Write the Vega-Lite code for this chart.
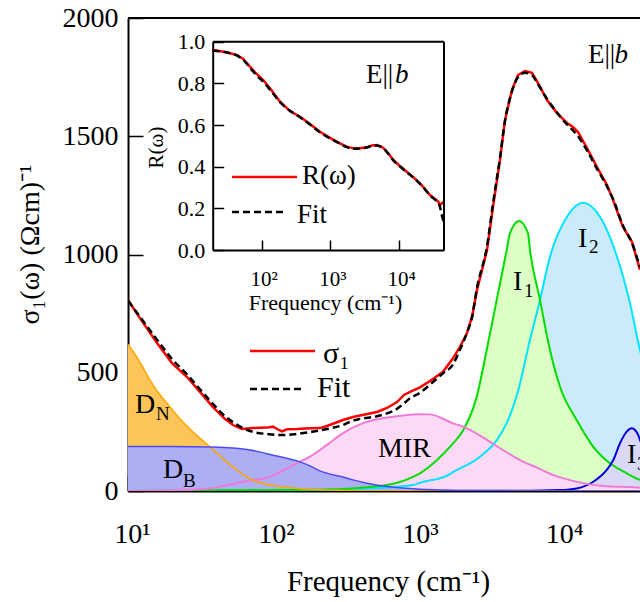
{
  "$schema": "https://vega.github.io/schema/vega-lite/v6.json",
  "width": 512,
  "height": 473,
  "autosize": "none",
  "padding": {"left": 128, "top": 18, "right": 0, "bottom": 111},
  "config": {
    "font": "Liberation Serif",
    "view": {"stroke": null},
    "axis": {
      "grid": false,
      "labelColor": "black",
      "titleColor": "black",
      "domainColor": "black",
      "tickColor": "black",
      "titleFontWeight": "normal",
      "labelFont": "Liberation Serif",
      "titleFont": "Liberation Serif"
    },
    "text": {"font": "Liberation Serif", "color": "black"}
  },
  "datasets": {
    "sigma": [
      {"f": 10, "s": 808}, {"f": 12.1, "s": 731}, {"f": 15.9, "s": 626}, {"f": 20.2, "s": 541},
      {"f": 25.7, "s": 482}, {"f": 31.6, "s": 419}, {"f": 38.9, "s": 355}, {"f": 47.2, "s": 304},
      {"f": 53.6, "s": 279}, {"f": 61.9, "s": 262}, {"f": 73.8, "s": 266}, {"f": 92.3, "s": 268},
      {"f": 101.6, "s": 272}, {"f": 110.2, "s": 260}, {"f": 117.4, "s": 252}, {"f": 127.1, "s": 261},
      {"f": 149.2, "s": 262}, {"f": 183.6, "s": 265}, {"f": 215.4, "s": 266}, {"f": 240.9, "s": 275},
      {"f": 311.2, "s": 300}, {"f": 365.2, "s": 313}, {"f": 408.4, "s": 319}, {"f": 536, "s": 334},
      {"f": 629, "s": 351}, {"f": 738, "s": 376}, {"f": 825, "s": 406}, {"f": 909, "s": 419},
      {"f": 1066, "s": 438}, {"f": 1251, "s": 465}, {"f": 1540, "s": 504}, {"f": 1807, "s": 561},
      {"f": 2021, "s": 610}, {"f": 2261, "s": 668}, {"f": 2449, "s": 737}, {"f": 2653, "s": 850},
      {"f": 3112, "s": 1019}, {"f": 3425, "s": 1201}, {"f": 3831, "s": 1400}, {"f": 4150, "s": 1569},
      {"f": 4642, "s": 1696}, {"f": 5109, "s": 1759}, {"f": 5714, "s": 1776}, {"f": 6392, "s": 1768},
      {"f": 7035, "s": 1725}, {"f": 8122, "s": 1653}, {"f": 9532, "s": 1598}, {"f": 11184, "s": 1556},
      {"f": 12311, "s": 1539}, {"f": 13335, "s": 1518}, {"f": 15399, "s": 1450}, {"f": 18066, "s": 1370},
      {"f": 21200, "s": 1294}, {"f": 23340, "s": 1231}, {"f": 27380, "s": 1116}, {"f": 31623, "s": 1053},
      {"f": 35938, "s": 935}
    ],
    "sigmaFit": [
      {"f": 10, "s": 805}, {"f": 12.1, "s": 737}, {"f": 15.9, "s": 640}, {"f": 20.2, "s": 558},
      {"f": 25.7, "s": 493}, {"f": 31.6, "s": 430}, {"f": 38.9, "s": 368}, {"f": 47.2, "s": 316},
      {"f": 53.6, "s": 291}, {"f": 61.9, "s": 268}, {"f": 73.8, "s": 250}, {"f": 92.3, "s": 241},
      {"f": 110, "s": 237}, {"f": 127, "s": 237}, {"f": 149, "s": 241}, {"f": 184, "s": 249},
      {"f": 215, "s": 256}, {"f": 241, "s": 262}, {"f": 311, "s": 279}, {"f": 365, "s": 298},
      {"f": 408, "s": 305}, {"f": 536, "s": 316}, {"f": 629, "s": 328}, {"f": 738, "s": 348},
      {"f": 825, "s": 370}, {"f": 909, "s": 392}, {"f": 1066, "s": 415}, {"f": 1251, "s": 450},
      {"f": 1540, "s": 498}, {"f": 1807, "s": 535}, {"f": 2021, "s": 598}, {"f": 2261, "s": 670},
      {"f": 2449, "s": 735}, {"f": 2653, "s": 860}, {"f": 3112, "s": 1035}, {"f": 3425, "s": 1215},
      {"f": 3831, "s": 1410}, {"f": 4150, "s": 1565}, {"f": 4642, "s": 1690}, {"f": 5109, "s": 1750},
      {"f": 5714, "s": 1768}, {"f": 6392, "s": 1758}, {"f": 7035, "s": 1720}, {"f": 8122, "s": 1658},
      {"f": 9532, "s": 1600}, {"f": 11184, "s": 1550}, {"f": 12311, "s": 1525}, {"f": 13335, "s": 1500},
      {"f": 15399, "s": 1440}, {"f": 18066, "s": 1362}, {"f": 21200, "s": 1288}, {"f": 23340, "s": 1235},
      {"f": 27380, "s": 1122}, {"f": 31623, "s": 1048}, {"f": 35938, "s": 945}
    ],
    "drudeN": [
      {"f": 10, "s": 621}, {"f": 12.1, "s": 545}, {"f": 14.2, "s": 469}, {"f": 16.7, "s": 406},
      {"f": 19.6, "s": 355}, {"f": 23, "s": 304}, {"f": 28.3, "s": 249}, {"f": 37.1, "s": 186},
      {"f": 45, "s": 140}, {"f": 53.6, "s": 101}, {"f": 73.8, "s": 46}, {"f": 108, "s": 21},
      {"f": 156, "s": 10}, {"f": 253, "s": 4}, {"f": 562, "s": 0.8}, {"f": 2000, "s": 0.1},
      {"f": 40000, "s": 0}
    ],
    "drudeB": [
      {"f": 10, "s": 188}, {"f": 19.6, "s": 188}, {"f": 37.1, "s": 186}, {"f": 62.9, "s": 178},
      {"f": 108, "s": 148}, {"f": 156, "s": 123}, {"f": 184, "s": 106}, {"f": 215, "s": 85},
      {"f": 311, "s": 59}, {"f": 365, "s": 47}, {"f": 457, "s": 33}, {"f": 629, "s": 19},
      {"f": 1192, "s": 6}, {"f": 2021, "s": 2}, {"f": 5275, "s": 0.3}, {"f": 40000, "s": 0}
    ],
    "mir": [
      {"f": 10, "s": 0.3}, {"f": 23, "s": 4}, {"f": 38.9, "s": 13}, {"f": 62.9, "s": 39},
      {"f": 96.8, "s": 60}, {"f": 149.2, "s": 118}, {"f": 183.6, "s": 145}, {"f": 240.9, "s": 195},
      {"f": 311.2, "s": 245}, {"f": 428.5, "s": 287}, {"f": 692, "s": 314}, {"f": 909, "s": 322},
      {"f": 1066, "s": 325}, {"f": 1251, "s": 324}, {"f": 1807, "s": 286}, {"f": 2120, "s": 272},
      {"f": 3112, "s": 216}, {"f": 4019, "s": 173}, {"f": 5275, "s": 131}, {"f": 7035, "s": 97},
      {"f": 8944, "s": 68}, {"f": 11736, "s": 46}, {"f": 19890, "s": 21}, {"f": 34250, "s": 15},
      {"f": 40000, "s": 12}
    ],
    "band1": [
      {"f": 10, "s": 0}, {"f": 156, "s": 5}, {"f": 365, "s": 11}, {"f": 536, "s": 20},
      {"f": 629, "s": 25}, {"f": 953, "s": 60}, {"f": 1066, "s": 75}, {"f": 1399, "s": 131},
      {"f": 1807, "s": 201}, {"f": 2131, "s": 258}, {"f": 2640, "s": 399}, {"f": 3097, "s": 596},
      {"f": 3634, "s": 808}, {"f": 4265, "s": 1019}, {"f": 4496, "s": 1090}, {"f": 5192, "s": 1142},
      {"f": 5995, "s": 1090}, {"f": 6190, "s": 1019}, {"f": 7262, "s": 808}, {"f": 8522, "s": 596},
      {"f": 10000, "s": 441}, {"f": 13060, "s": 300}, {"f": 17030, "s": 187}, {"f": 22230, "s": 117},
      {"f": 29060, "s": 75}, {"f": 35938, "s": 47}, {"f": 45000, "s": 30}
    ],
    "band2": [
      {"f": 10, "s": 0}, {"f": 156, "s": 3}, {"f": 365, "s": 9}, {"f": 629, "s": 15},
      {"f": 953, "s": 25}, {"f": 1066, "s": 35}, {"f": 1642, "s": 65}, {"f": 1807, "s": 80},
      {"f": 2782, "s": 145}, {"f": 3652, "s": 216}, {"f": 4285, "s": 290}, {"f": 5100, "s": 420},
      {"f": 6190, "s": 640}, {"f": 7262, "s": 808}, {"f": 8522, "s": 991}, {"f": 11184, "s": 1160},
      {"f": 14440, "s": 1219}, {"f": 18960, "s": 1160}, {"f": 24880, "s": 991}, {"f": 30630, "s": 794},
      {"f": 35938, "s": 596}, {"f": 45000, "s": 400}
    ],
    "band3": [
      {"f": 1000, "s": 0}, {"f": 5275, "s": 1}, {"f": 10000, "s": 4}, {"f": 13060, "s": 11},
      {"f": 17030, "s": 39}, {"f": 21100, "s": 89}, {"f": 23450, "s": 131}, {"f": 26100, "s": 202},
      {"f": 29060, "s": 251}, {"f": 31470, "s": 265}, {"f": 33180, "s": 258}, {"f": 34990, "s": 235},
      {"f": 35938, "s": 216}, {"f": 40000, "s": 150}, {"f": 50000, "s": 60}
    ],
    "labelBase": [
      {"f": 11.18, "s": 330, "t": "D"},
      {"f": 17.5, "s": 55, "t": "D"},
      {"f": 544.6, "s": 144, "t": "MIR"},
      {"f": 4717, "s": 850, "t": "I"},
      {"f": 13335, "s": 1032, "t": "I"},
      {"f": 29190, "s": 118, "t": "I"}
    ],
    "labelSub": [
      {"f": 15.65, "s": 300, "t": "N"},
      {"f": 24.1, "s": 17, "t": "B"},
      {"f": 5623, "s": 820, "t": "1"},
      {"f": 15900, "s": 1006, "t": "2"},
      {"f": 34250, "s": 89, "t": "3"}
    ],
    "refl": [
      {"f": 19.4, "s": 0.960}, {"f": 29.3, "s": 0.951}, {"f": 43.3, "s": 0.936}, {"f": 54, "s": 0.917},
      {"f": 67.6, "s": 0.880}, {"f": 84.6, "s": 0.845}, {"f": 105.5, "s": 0.816}, {"f": 132, "s": 0.776},
      {"f": 184.6, "s": 0.712}, {"f": 257.8, "s": 0.667}, {"f": 360.6, "s": 0.640}, {"f": 503.5, "s": 0.605},
      {"f": 703, "s": 0.568}, {"f": 982.5, "s": 0.538}, {"f": 1374, "s": 0.512}, {"f": 1720, "s": 0.496},
      {"f": 2145, "s": 0.488}, {"f": 2685, "s": 0.488}, {"f": 3357, "s": 0.493}, {"f": 4011, "s": 0.502},
      {"f": 4690, "s": 0.504}, {"f": 5243, "s": 0.499}, {"f": 5860, "s": 0.490}, {"f": 6852, "s": 0.466},
      {"f": 8190, "s": 0.432}, {"f": 10240, "s": 0.403}, {"f": 12790, "s": 0.376}, {"f": 15980, "s": 0.350},
      {"f": 20000, "s": 0.320}, {"f": 23640, "s": 0.293}, {"f": 27940, "s": 0.264}, {"f": 33040, "s": 0.245},
      {"f": 36900, "s": 0.232}, {"f": 39200, "s": 0.216}, {"f": 44700, "s": 0.233}
    ],
    "reflFit": [
      {"f": 19.4, "s": 0.958}, {"f": 29.3, "s": 0.950}, {"f": 43.3, "s": 0.934}, {"f": 54, "s": 0.913},
      {"f": 67.6, "s": 0.875}, {"f": 84.6, "s": 0.838}, {"f": 105.5, "s": 0.808}, {"f": 132, "s": 0.770},
      {"f": 184.6, "s": 0.710}, {"f": 257.8, "s": 0.668}, {"f": 360.6, "s": 0.638}, {"f": 503.5, "s": 0.602},
      {"f": 703, "s": 0.565}, {"f": 982.5, "s": 0.536}, {"f": 1374, "s": 0.510}, {"f": 1720, "s": 0.494},
      {"f": 2145, "s": 0.486}, {"f": 2685, "s": 0.487}, {"f": 3357, "s": 0.492}, {"f": 4011, "s": 0.500},
      {"f": 4690, "s": 0.502}, {"f": 5243, "s": 0.497}, {"f": 5860, "s": 0.488}, {"f": 6852, "s": 0.464},
      {"f": 8190, "s": 0.430}, {"f": 10240, "s": 0.401}, {"f": 12790, "s": 0.374}, {"f": 15980, "s": 0.348},
      {"f": 20000, "s": 0.318}, {"f": 23640, "s": 0.291}, {"f": 27940, "s": 0.262}, {"f": 33040, "s": 0.242},
      {"f": 36900, "s": 0.228}, {"f": 39200, "s": 0.205}, {"f": 41300, "s": 0.170}, {"f": 44700, "s": 0.130}
    ]
  },
  "layer": [
    {
      "layer": [
        {
          "data": {"name": "band2"},
          "mark": {"type": "area", "color": "#CCEBFA", "opacity": 1, "interpolate": "monotone", "clip": true},
          "encoding": {
            "x": {
              "field": "f", "type": "quantitative",
              "scale": {"type": "log", "domain": [10, 35938], "nice": false},
              "axis": {
                "orient": "bottom",
                "values": [10, 20, 30, 40, 50, 60, 70, 80, 90, 100, 200, 300, 400, 500, 600, 700, 800, 900, 1000, 2000, 3000, 4000, 5000, 6000, 7000, 8000, 9000, 10000, 20000, 30000],
                "tickSize": {"condition": {"test": "indexof([10, 100, 1000, 10000], datum.value) >= 0", "value": -15}, "value": -7},
                "tickWidth": 1.5,
                "domainWidth": 2,
                "labelExpr": "datum.value == 10 ? '10¹' : datum.value == 100 ? '10²' : datum.value == 1000 ? '10³' : datum.value == 10000 ? '10⁴' : ''",
                "labelFont": "Liberation Serif",
                "labelFontSize": 28,
                "labelBaseline": "alphabetic",
                "labelPadding": 66,
                "labelFlush": false,
                "labelOverlap": false,
                "labelOffset": 4,
                "title": "Frequency (cm⁻¹)",
                "titleFont": "Liberation Serif",
                "titleFontSize": 29,
                "titleBaseline": "alphabetic",
                "titleAnchor": "start",
                "titleAlign": "center",
                "titleX": 260,
                "titleY": 99
              }
            },
            "y": {
              "field": "s", "type": "quantitative",
              "scale": {"domain": [0, 2000], "nice": false},
              "stack": null,
              "axis": {
                "values": [0, 500, 1000, 1500, 2000],
                "format": "d",
                "tickSize": -15,
                "tickWidth": 1.5,
                "domainWidth": 2,
                "labelFont": "Liberation Serif",
                "labelFontSize": 28,
                "labelPadding": 25,
                "title": "σ₁(ω) (Ωcm)⁻¹",
                "titleFont": "Liberation Serif",
                "titleFontSize": 28,
                "titleAngle": -90,
                "titleBaseline": "alphabetic",
                "titleAlign": "center",
                "titleX": -90,
                "titleY": 226
              }
            }
          }
        },
        {"data": {"name": "band1"}, "mark": {"type": "area", "color": "#DDFEC4", "opacity": 1, "interpolate": "monotone", "clip": true},
         "encoding": {"x": {"field": "f", "type": "quantitative"}, "y": {"field": "s", "type": "quantitative", "stack": null}}},
        {"data": {"name": "band3"}, "mark": {"type": "area", "color": "#D9D9F7", "opacity": 1, "interpolate": "monotone", "clip": true},
         "encoding": {"x": {"field": "f", "type": "quantitative"}, "y": {"field": "s", "type": "quantitative", "stack": null}}},
        {"data": {"name": "mir"}, "mark": {"type": "area", "color": "#FCDAF5", "opacity": 1, "interpolate": "monotone", "clip": true},
         "encoding": {"x": {"field": "f", "type": "quantitative"}, "y": {"field": "s", "type": "quantitative", "stack": null}}},
        {"data": {"name": "drudeN"}, "mark": {"type": "area", "color": "#FDC45A", "opacity": 1, "interpolate": "monotone", "clip": true},
         "encoding": {"x": {"field": "f", "type": "quantitative"}, "y": {"field": "s", "type": "quantitative", "stack": null}}},
        {"data": {"name": "drudeB"}, "mark": {"type": "area", "color": "#AEAEF4", "opacity": 1, "interpolate": "monotone", "clip": true},
         "encoding": {"x": {"field": "f", "type": "quantitative"}, "y": {"field": "s", "type": "quantitative", "stack": null}}},

        {"data": {"name": "band2"}, "mark": {"type": "line", "color": "#00E5FF", "strokeWidth": 2, "interpolate": "monotone", "clip": true},
         "encoding": {"x": {"field": "f", "type": "quantitative"}, "y": {"field": "s", "type": "quantitative"}}},
        {"data": {"name": "band1"}, "mark": {"type": "line", "color": "#00DD00", "strokeWidth": 2, "interpolate": "monotone", "clip": true},
         "encoding": {"x": {"field": "f", "type": "quantitative"}, "y": {"field": "s", "type": "quantitative"}}},
        {"data": {"name": "band3"}, "mark": {"type": "line", "color": "#0000DD", "strokeWidth": 2, "interpolate": "monotone", "clip": true},
         "encoding": {"x": {"field": "f", "type": "quantitative"}, "y": {"field": "s", "type": "quantitative"}}},
        {"data": {"name": "mir"}, "mark": {"type": "line", "color": "#F07AD8", "strokeWidth": 2, "interpolate": "monotone", "clip": true},
         "encoding": {"x": {"field": "f", "type": "quantitative"}, "y": {"field": "s", "type": "quantitative"}}},
        {"data": {"name": "drudeN"}, "mark": {"type": "line", "color": "#FFA500", "strokeWidth": 1.5, "interpolate": "monotone", "clip": true},
         "encoding": {"x": {"field": "f", "type": "quantitative"}, "y": {"field": "s", "type": "quantitative"}}},
        {"data": {"name": "drudeB"}, "mark": {"type": "line", "color": "#4B4BF0", "strokeWidth": 1.5, "interpolate": "monotone", "clip": true},
         "encoding": {"x": {"field": "f", "type": "quantitative"}, "y": {"field": "s", "type": "quantitative"}}},

        {"data": {"name": "sigma"}, "mark": {"type": "line", "color": "#FF0000", "strokeWidth": 2.5, "clip": true},
         "encoding": {"x": {"field": "f", "type": "quantitative"}, "y": {"field": "s", "type": "quantitative"}}},
        {"data": {"name": "sigmaFit"}, "mark": {"type": "line", "color": "black", "strokeWidth": 2.5, "strokeDash": [7, 4], "interpolate": "monotone", "clip": true},
         "encoding": {"x": {"field": "f", "type": "quantitative"}, "y": {"field": "s", "type": "quantitative"}}},

        {"data": {"values": [{}]}, "mark": {"type": "rule", "color": "black", "strokeWidth": 2},
         "encoding": {"y": {"datum": 2000}}},

        {"data": {"name": "labelBase"}, "mark": {"type": "text", "align": "left", "baseline": "alphabetic", "fontSize": 28, "clip": true},
         "encoding": {"x": {"field": "f", "type": "quantitative"}, "y": {"field": "s", "type": "quantitative"}, "text": {"field": "t"}}},
        {"data": {"name": "labelSub"}, "mark": {"type": "text", "align": "left", "baseline": "alphabetic", "fontSize": 19, "clip": true},
         "encoding": {"x": {"field": "f", "type": "quantitative"}, "y": {"field": "s", "type": "quantitative"}, "text": {"field": "t"}}},

        {"data": {"values": [{}]}, "mark": {"type": "text", "text": "E||", "align": "left", "baseline": "alphabetic", "fontSize": 27},
         "encoding": {"x": {"datum": 15630}, "y": {"datum": 1810}}},
        {"data": {"values": [{}]}, "mark": {"type": "text", "text": "b", "align": "left", "baseline": "alphabetic", "fontSize": 27, "fontStyle": "italic"},
         "encoding": {"x": {"datum": 23900}, "y": {"datum": 1810}}},

        {"data": {"values": [{}]}, "mark": {"type": "rule", "color": "#FF0000", "strokeWidth": 2.5},
         "encoding": {"x": {"datum": 70.33}, "x2": {"datum": 198.9}, "y": {"datum": 592}}},
        {"data": {"values": [{}]}, "mark": {"type": "rule", "color": "black", "strokeWidth": 2.5, "strokeDash": [7, 4]},
         "encoding": {"x": {"datum": 70.33}, "x2": {"datum": 169.5}, "y": {"datum": 431}}},
        {"data": {"values": [{}]}, "mark": {"type": "text", "text": "σ₁", "align": "left", "baseline": "alphabetic", "fontSize": 30},
         "encoding": {"x": {"datum": 226.1}, "y": {"datum": 541}}},
        {"data": {"values": [{}]}, "mark": {"type": "text", "text": "Fit", "align": "left", "baseline": "alphabetic", "fontSize": 30},
         "encoding": {"x": {"datum": 205.4}, "y": {"datum": 397}}}
      ]
    },
    {
      "layer": [
        {
          "data": {"name": "refl"},
          "mark": {"type": "line", "color": "#FF0000", "strokeWidth": 2.5},
          "encoding": {
            "x": {
              "field": "f", "type": "quantitative",
              "scale": {"type": "log", "domain": [19.4, 44700], "range": [84.7, 316], "nice": false},
              "axis": {
                "orient": "bottom",
                "offset": -241,
                "values": [100, 1000, 10000],
                "tickSize": -10,
                "tickWidth": 1.5,
                "domainWidth": 2,
                "labelExpr": "datum.value == 100 ? '10²' : datum.value == 1000 ? '10³' : '10⁴'",
                "labelFont": "Liberation Serif",
                "labelFontSize": 21,
                "labelBaseline": "alphabetic",
                "labelPadding": 45,
                "labelFlush": false,
                "labelOverlap": false,
                "labelOffset": 2,
                "title": "Frequency (cm⁻¹)",
                "titleFont": "Liberation Serif",
                "titleFontSize": 22,
                "titleBaseline": "alphabetic",
                "titleAnchor": "start",
                "titleAlign": "center",
                "titleX": 197,
                "titleY": 59
              }
            },
            "y": {
              "field": "s", "type": "quantitative",
              "scale": {"domain": [0, 1], "range": [232, 23.7], "nice": false},
              "axis": {
                "orient": "left",
                "offset": -84.7,
                "values": [0, 0.2, 0.4, 0.6, 0.8, 1],
                "format": ".1f",
                "tickSize": -11,
                "tickWidth": 1.5,
                "domainWidth": 2,
                "labelFont": "Liberation Serif",
                "labelFontSize": 22,
                "labelPadding": 19,
                "title": "R(ω)",
                "titleFont": "Liberation Serif",
                "titleFontSize": 21,
                "titleAngle": -90,
                "titleBaseline": "alphabetic",
                "titleAlign": "center",
                "titleX": -50,
                "titleY": 129
              }
            }
          }
        },
        {"data": {"name": "reflFit"}, "mark": {"type": "line", "color": "black", "strokeWidth": 2.5, "strokeDash": [7, 4], "interpolate": "monotone"},
         "encoding": {"x": {"field": "f", "type": "quantitative"}, "y": {"field": "s", "type": "quantitative"}}},
        {"data": {"values": [{}]}, "mark": {"type": "rule", "color": "black", "strokeWidth": 2},
         "encoding": {"x": {"datum": 19.4}, "x2": {"datum": 44700}, "y": {"datum": 1}}},
        {"data": {"values": [{}]}, "mark": {"type": "rule", "color": "black", "strokeWidth": 2},
         "encoding": {"x": {"datum": 44700}, "y": {"datum": 0}, "y2": {"datum": 1}}},
        {"data": {"values": [{}]}, "mark": {"type": "rule", "color": "#FF0000", "strokeWidth": 2.5},
         "encoding": {"x": {"datum": 37.0}, "x2": {"datum": 326}, "y": {"datum": 0.3505}}},
        {"data": {"values": [{}]}, "mark": {"type": "rule", "color": "black", "strokeWidth": 2.5, "strokeDash": [7, 4]},
         "encoding": {"x": {"datum": 37.0}, "x2": {"datum": 233}, "y": {"datum": 0.1824}}},
        {"data": {"values": [{}]}, "mark": {"type": "text", "text": "R(ω)", "align": "left", "baseline": "alphabetic", "fontSize": 27},
         "encoding": {"x": {"datum": 385}, "y": {"datum": 0.317}}},
        {"data": {"values": [{}]}, "mark": {"type": "text", "text": "Fit", "align": "left", "baseline": "alphabetic", "fontSize": 27},
         "encoding": {"x": {"datum": 326}, "y": {"datum": 0.128}}},
        {"data": {"values": [{}]}, "mark": {"type": "text", "text": "E||", "align": "left", "baseline": "alphabetic", "fontSize": 27},
         "encoding": {"x": {"datum": 3280}, "y": {"datum": 0.8}}},
        {"data": {"values": [{}]}, "mark": {"type": "text", "text": "b", "align": "left", "baseline": "alphabetic", "fontSize": 27, "fontStyle": "italic"},
         "encoding": {"x": {"datum": 8660}, "y": {"datum": 0.8}}}
      ]
    }
  ],
  "resolve": {"scale": {"x": "independent", "y": "independent"}}
}
